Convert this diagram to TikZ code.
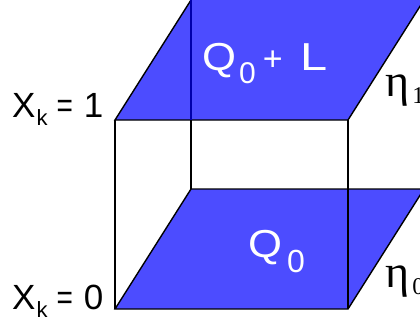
\documentclass[tikz,border=0pt]{standalone}
\usepackage{fontspec}
\setmainfont{Liberation Sans}
\newfontfamily\etafont{Liberation Serif}
\definecolor{facecol}{RGB}{76,76,255}
\definecolor{hiddencol}{RGB}{0,0,170}
\newcommand\mysub[3]{\raisebox{-#2}{\fontsize{#1}{#1}\selectfont #3}}
\newcommand\narroweq{\scalebox{0.8}[1]{=}}
\begin{document}
\begin{tikzpicture}[x=1pt,y=-1pt,
  edge/.style={line width=1.4pt, line join=miter},
  face/.style={fill=facecol},
  lbl/.style={inner sep=0pt, anchor=base west, font=\fontsize{35pt}{35pt}\selectfont},
  qlbl/.style={inner sep=0pt, anchor=base west, text=white, font=\fontsize{39pt}{39pt}\selectfont},
  etalbl/.style={inner sep=0pt, anchor=base west, font=\fontsize{46pt}{46pt}\selectfont\etafont}]
\useasboundingbox (0,0) rectangle (420,322);
% bottom face corners
\coordinate (A) at (115,309);
\coordinate (B) at (348,309);
\coordinate (C) at (424,189);
\coordinate (D) at (191,189);
% top face corners
\coordinate (E) at (115,120);
\coordinate (F) at (348,120);
\coordinate (G) at (424,0);
\coordinate (H) at (191,0);
\coordinate (M) at (191,120);
% faces
\fill[face] (A) -- (B) -- (C) -- (D) -- cycle;
\fill[face] (E) -- (F) -- (G) -- (H) -- cycle;
% edges
\draw[edge] (A) -- (B) -- (C) -- (D) -- cycle;
\draw[edge] (E) -- (A);
\draw[edge] (F) -- (B);
\draw[edge] (H) -- (E) -- (F) -- (G);
\draw[edge] (M) -- (D);
\draw[line width=1.2pt, hiddencol] (H) -- (M);
% labels
\node[lbl] (x1) at (12,117) {X\hspace{1pt}\mysub{22pt}{8pt}{k}\hspace{9pt}\narroweq\hspace{11pt}1};
\node[lbl] (x0) at (12,309) {X\hspace{1pt}\mysub{22pt}{8pt}{k}\hspace{9pt}\narroweq\hspace{11pt}0};
\node[qlbl] (qtop) at (202,70) {\scalebox{1.12}[1]{Q}\hspace{3pt}\mysub{30pt}{13pt}{0}\hspace{7pt}{\fontsize{34pt}{34pt}\selectfont +}\hspace{18pt}\scalebox{1.25}[1]{L}};
\node[qlbl] (qbot) at (248,257) {\scalebox{1.12}[1]{Q}\hspace{5pt}\mysub{32pt}{15pt}{0}};
\node[etalbl] (eta1) at (385,96) {η\hspace{3pt}\mysub{24pt}{7pt}{1}};
\node[etalbl] (eta0) at (385,287) {η\hspace{3pt}\mysub{24pt}{7pt}{0}};
\end{tikzpicture}
\end{document}
